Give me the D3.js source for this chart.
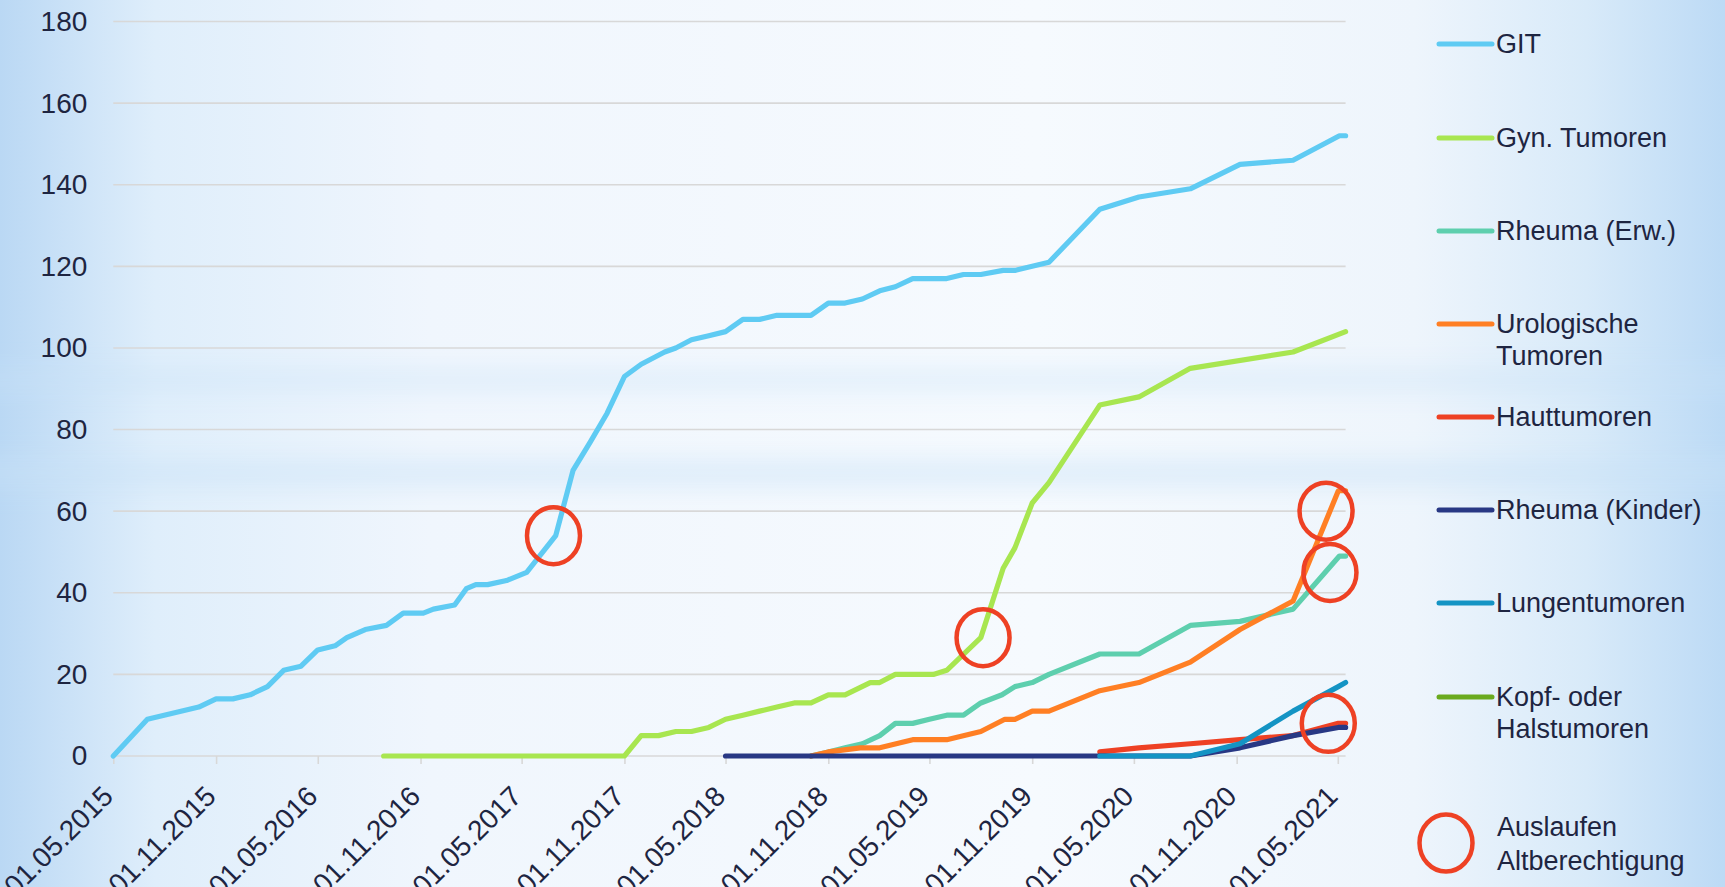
<!DOCTYPE html>
<html>
<head>
<meta charset="utf-8">
<script src="https://cdn.jsdelivr.net/npm/d3@7"></script>
<style>
  body { margin: 0; overflow: hidden; background: #eef5fc; }
  svg { display: block; font-family: "Liberation Sans", Arial, sans-serif; }
</style>
</head>
<body>
<div id="main"></div>
<script>
(function(){

  const width = 1725
  const height = 887

  // axis ticks
  const xTickLabels = ["01.05.2015", "01.11.2015", "01.05.2016", "01.11.2016", "01.05.2017", "01.11.2017",
    "01.05.2018", "01.11.2018", "01.05.2019", "01.11.2019", "01.05.2020", "01.11.2020", "01.05.2021"]
  const yTicks = [0, 20, 40, 60, 80, 100, 120, 140, 160, 180]

  const seriesNames = ["GIT", "Gyn. Tumoren", "Rheuma (Erw.)", "Urologische\nTumoren", "Hauttumoren",
    "Rheuma (Kinder)", "Lungentumoren", "Kopf- oder\nHalstumoren"]
  const seriesColors = ["#5fcbf3", "#a8e650", "#5ecfae", "#ff7f24", "#ee4124", "#283884", "#1494c4", "#6aaa1e"]

  // [date, cumulative count]
  const git = [["2015-05-01",0],["2015-07-01",9],["2015-10-01",12],["2015-11-01",14],["2015-12-01",14],
    ["2016-01-01",15],["2016-02-01",17],["2016-03-01",21],["2016-04-01",22],["2016-05-01",26],["2016-06-01",27],
    ["2016-06-22",29],["2016-07-25",31],["2016-09-01",32],["2016-10-01",35],["2016-11-06",35],["2016-11-24",36],
    ["2017-01-01",37],["2017-01-22",41],["2017-02-08",42],["2017-03-01",42],["2017-04-04",43],["2017-05-10",45],
    ["2017-07-01",54],["2017-08-01",70],["2017-09-01",77],["2017-10-01",84],["2017-11-01",93],["2017-12-01",96],
    ["2018-01-12",99],["2018-02-01",100],["2018-03-01",102],["2018-04-01",103],["2018-05-01",104],["2018-06-01",107],
    ["2018-07-01",107],["2018-08-01",108],["2018-10-01",108],["2018-11-01",111],["2018-12-01",111],["2019-01-01",112],
    ["2019-02-01",114],["2019-03-01",115],["2019-04-01",117],["2019-06-01",117],["2019-07-01",118],["2019-08-01",118],
    ["2019-09-10",119],["2019-10-01",119],["2019-12-01",121],["2020-03-01",134],["2020-05-10",137],["2020-08-10",139],
    ["2020-11-07",145],["2021-02-10",146],["2021-05-04",152],["2021-05-15",152]]

  const gyn = [["2016-08-27",0],["2017-11-01",0],["2017-12-01",5],["2018-01-01",5],["2018-02-01",6],["2018-03-01",6],
    ["2018-04-01",7],["2018-05-01",9],["2018-06-01",10],["2018-07-01",11],["2018-08-01",12],["2018-09-01",13],
    ["2018-10-01",13],["2018-11-01",15],["2018-12-01",15],["2019-01-15",18],["2019-02-01",18],["2019-03-01",20],
    ["2019-05-08",20],["2019-06-01",21],["2019-08-01",29],["2019-09-10",46],["2019-10-01",51],["2019-11-01",62],
    ["2019-12-01",67],["2020-03-01",86],["2020-05-10",88],["2020-08-10",95],["2021-02-10",99],["2021-05-15",104]]

  const rheumaErw = [["2018-10-01",0],["2018-11-01",1],["2018-12-01",2],["2019-01-01",3],["2019-02-01",5],
    ["2019-03-01",8],["2019-04-01",8],["2019-05-01",9],["2019-06-01",10],["2019-07-01",10],["2019-08-01",13],
    ["2019-09-08",15],["2019-10-01",17],["2019-11-01",18],["2019-12-01",20],["2020-03-01",25],["2020-05-10",25],
    ["2020-08-10",32],["2020-11-07",33],["2021-02-10",36],["2021-05-04",49],["2021-05-15",49]]

  const uro = [["2018-10-01",0],["2018-11-01",1],["2018-12-28",2],["2019-02-01",2],["2019-04-01",4],["2019-06-01",4],
    ["2019-08-01",6],["2019-09-13",9],["2019-10-01",9],["2019-11-01",11],["2019-12-01",11],["2020-03-01",16],
    ["2020-05-10",18],["2020-08-10",23],["2020-11-07",31],["2021-02-10",38],["2021-05-02",65],["2021-05-15",65]]

  const haut = [["2020-03-01",1],["2020-05-10",2],["2020-08-10",3],["2020-11-07",4],["2021-02-10",5],
    ["2021-05-02",8],["2021-05-15",8]]

  const rheumaKinder = [["2018-05-01",0],["2020-08-10",0],["2020-11-07",2],["2021-02-10",5],["2021-05-02",7],["2021-05-15",7]]

  const lunge = [["2020-03-01",0],["2020-08-10",0],["2020-11-07",3],["2021-02-10",11],["2021-05-02",17],["2021-05-15",18]]

  const kopf = []

  const series = [git, gyn, rheumaErw, uro, haut, rheumaKinder, lunge, kopf]

  // "Auslaufen Altberechtigung" marks
  const markers = [["2017-06-27",54],["2019-08-05",29],["2021-04-10",60],["2021-04-17",45],["2021-04-14",8]]

  const parse = d3.utcParse("%Y-%m-%d")
  const parseTick = d3.utcParse("%d.%m.%Y")

  const xScale = d3.scaleUtc()
    .domain([parse("2015-05-01"), parse("2021-05-15")])
    .range([113.3, 1345.6])

  const yScale = d3.scaleLinear()
    .domain([0, 180])
    .range([756, 21.5])

  const svg = d3.select("#main").append("svg")
    .attr("width", width)
    .attr("height", height)

  // background like the slide
  const defs = svg.append("defs")
  const bg = defs.append("linearGradient").attr("id", "bg")
  ;[["0%","#bad8f4"],["9%","#dfeefb"],["25%","#f0f6fd"],["60%","#f6fafe"],["82%","#eef5fc"],["92%","#d8eaf9"],["100%","#bcdaf5"]]
    .forEach(s => bg.append("stop").attr("offset", s[0]).attr("stop-color", s[1]))
  defs.append("filter").attr("id", "blur").attr("x", "-10%").attr("y", "-300%").attr("width", "120%").attr("height", "700%")
    .append("feGaussianBlur").attr("stdDeviation", 13)

  svg.append("rect").attr("width", width).attr("height", height).attr("fill", "url(#bg)")
  svg.append("rect").attr("x", -50).attr("y", 370).attr("width", width + 100).attr("height", 20)
    .attr("fill", "#c9e2f7").attr("opacity", 0.5).attr("filter", "url(#blur)")
  svg.append("rect").attr("x", -50).attr("y", 460).attr("width", width + 100).attr("height", 26)
    .attr("fill", "#c9e2f7").attr("opacity", 0.55).attr("filter", "url(#blur)")

  // gridlines
  svg.append("g")
    .selectAll("line")
    .data(yTicks)
    .join("line")
    .attr("x1", xScale.range()[0])
    .attr("x2", xScale.range()[1])
    .attr("y1", d => yScale(d))
    .attr("y2", d => yScale(d))
    .attr("stroke", "#d8d8d8")
    .attr("stroke-width", 1.6)

  const yAxis = d3.axisLeft(yScale)
    .tickValues(yTicks)
    .tickSize(0)
    .tickPadding(26)

  const gy = svg.append("g")
    .attr("transform", `translate(${xScale.range()[0]},0)`)
    .call(yAxis)
  gy.select(".domain").remove()
  gy.selectAll("text")
    .attr("fill", "#1e2541")
    .style("font-size", "28px")
    .style("font-family", "\"Liberation Sans\", Arial, sans-serif")

  const xAxis = d3.axisBottom(xScale)
    .tickValues(xTickLabels.map(parseTick))
    .tickFormat((d, i) => xTickLabels[i])
    .tickSize(8)
    .tickSizeOuter(0)

  const gx = svg.append("g")
    .attr("transform", `translate(0,${yScale(0)})`)
    .call(xAxis)
  gx.select(".domain").remove()
  gx.selectAll(".tick line").attr("stroke", "#d8d8d8").attr("stroke-width", 1.6)
  gx.selectAll("text")
    .attr("x", 0)
    .attr("y", 0)
    .attr("dy", 0)
    .attr("transform", "translate(1,42) rotate(-45)")
    .style("text-anchor", "end")
    .attr("fill", "#1e2541")
    .style("font-size", "28px")
    .style("font-family", "\"Liberation Sans\", Arial, sans-serif")

  const line = d3.line()
    .x(d => xScale(parse(d[0])))
    .y(d => yScale(d[1]))

  svg.append("g")
    .selectAll("path")
    .data(series)
    .join("path")
    .attr("fill", "none")
    .attr("stroke", (d, i) => seriesColors[i])
    .attr("stroke-width", 5.2)
    .attr("stroke-linejoin", "round")
    .attr("stroke-linecap", "round")
    .attr("d", d => d.length ? line(d) : null)

  svg.append("g")
    .selectAll("ellipse")
    .data(markers)
    .join("ellipse")
    .attr("cx", d => xScale(parse(d[0])))
    .attr("cy", d => yScale(d[1]))
    .attr("rx", 26.5)
    .attr("ry", 28.5)
    .attr("fill", "none")
    .attr("stroke", "#ee4124")
    .attr("stroke-width", 4.5)

  // legend
  const legendY = [44, 138, 231, 324, 417, 510, 603, 697]
  const legend = svg.append("g")
  seriesNames.forEach((name, i) => {
    const y = legendY[i]
    legend.append("line")
      .attr("x1", 1439).attr("x2", 1492)
      .attr("y1", y).attr("y2", y)
      .attr("stroke", seriesColors[i])
      .attr("stroke-width", 5)
      .attr("stroke-linecap", "round")
    const t = legend.append("text")
      .attr("x", 1496).attr("y", y)
      .attr("fill", "#1e2541")
      .style("font-size", "27px")
    name.split("\n").forEach((part, k) => {
      t.append("tspan").attr("x", 1496).attr("y", y + k * 32).attr("dy", "0.35em").text(part)
    })
  })

  legend.append("ellipse")
    .attr("cx", 1446).attr("cy", 843)
    .attr("rx", 26.5).attr("ry", 28.5)
    .attr("fill", "none")
    .attr("stroke", "#ee4124")
    .attr("stroke-width", 4.5)
  const lt = legend.append("text").attr("fill", "#1e2541").style("font-size", "27px")
  ;["Auslaufen", "Altberechtigung"].forEach((part, k) => {
    lt.append("tspan").attr("x", 1497).attr("y", 827 + k * 34).attr("dy", "0.35em").text(part)
  })

}())
</script>
</body>
</html>
